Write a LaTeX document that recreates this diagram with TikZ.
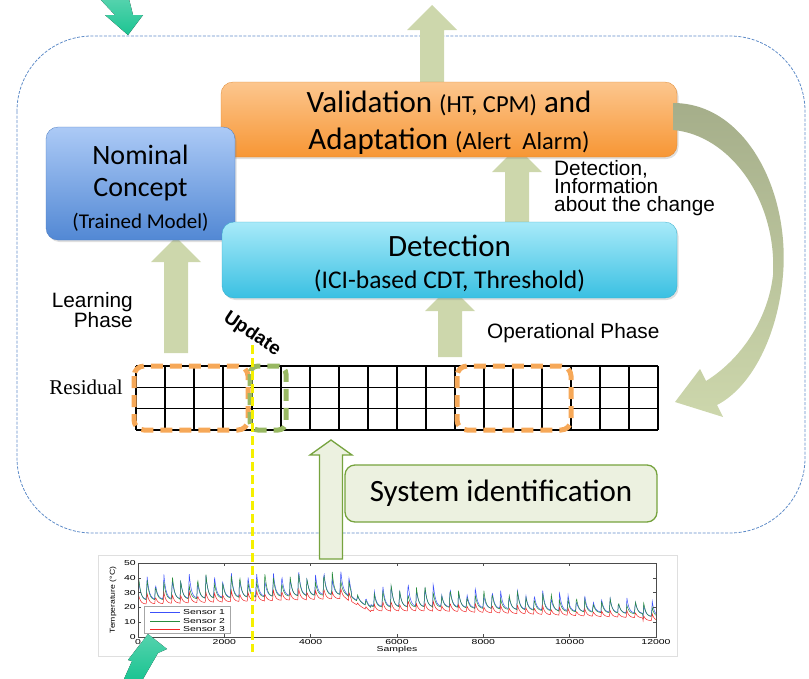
\documentclass[tikz,border=0pt]{standalone}
\usepackage{fontspec}
\setmainfont{Carlito}
\newfontfamily\arialfont{Liberation Sans}
\newfontfamily\timesfont{Liberation Serif}
\usetikzlibrary{arrows.meta, calc, positioning, shadows, backgrounds}

\definecolor{sage}{RGB}{205,215,172}
\definecolor{sagedark}{RGB}{165,174,138}
\definecolor{framblue}{RGB}{95,140,200}
\definecolor{arrteal}{RGB}{28,196,146}
\definecolor{orgdash}{RGB}{246,168,88}
\definecolor{grndash}{RGB}{152,184,98}
\definecolor{sysfill}{RGB}{236,241,224}
\definecolor{sysline}{RGB}{118,163,62}
\definecolor{valtop}{RGB}{252,198,142}
\definecolor{valbot}{RGB}{247,150,52}
\definecolor{nomtop}{RGB}{172,202,246}
\definecolor{nombot}{RGB}{82,136,212}
\definecolor{dettop}{RGB}{168,234,249}
\definecolor{detbot}{RGB}{58,192,226}
\definecolor{sensA}{RGB}{60,80,250}
\definecolor{sensB}{RGB}{40,140,60}
\definecolor{sensC}{RGB}{240,40,40}
\definecolor{updyellow}{RGB}{245,240,0}

\tikzset{
  phasebox/.style={rounded corners=12pt, inner sep=0pt, line width=0.3pt,
    drop shadow={shadow xshift=1.5pt, shadow yshift=-2pt, opacity=0.25}},
  boxtext/.style={align=center, inner sep=0pt},
  window/.style={line width=5pt, dash pattern=on 12pt off 7pt, rounded corners=10pt},
  sidelabel/.style={font=\arialfont\fontsize{20.8}{17.8}\selectfont, inner sep=0pt},
  ticklab/.style={font=\arialfont\fontsize{7.2}{8}\selectfont, inner sep=1pt},
}

% stretched plot text
\newcommand{\wide}[1]{\scalebox{1.45}[1]{#1}}

% fat up arrow: foot, tip
\newcommand{\fatup}[3][sage]{%
  \fill[#1] let \p1=(#2), \p2=(#3) in
    (\x2-12pt,\y1) -- (\x2-12pt,\y2-25pt) -- (\x2-25pt,\y2-25pt) -- (\x2,\y2)
    -- (\x2+25pt,\y2-25pt) -- (\x2+12pt,\y2-25pt) -- (\x2+12pt,\y1) -- cycle;}

\begin{document}
\begin{tikzpicture}[x=1pt, y=-1pt,
  declare function={
    bs(\u)=(\u<48)?(22+0.08*\u):((\u<54)?(25.8-1.5*(\u-48)):((\u<70)?17.5:((\u<117)?(17.5-0.1*(\u-70)):11)));
    am(\u)=(\u<49.5)?18:((\u<54)?5:((\u<70)?17:((\u<100)?14:11)));
    ph(\u)=mod(\u,1.95)/1.95;
    sp(\u)=(ph(\u)<0.07)?(ph(\u)/0.07):exp(-4*(ph(\u)-0.07));
    rka(\u)=0.8+0.2*sin(floor(\u/1.95)*137.5);
    rkb(\u)=0.78+0.22*sin(floor(\u/1.95)*97+60);
  }]
    \useasboundingbox (0,0) rectangle (809,678);

    % boxes
    \node[phasebox, top color=valtop, bottom color=valbot, draw=valbot!90!black,
      minimum width=456pt, minimum height=75pt] (val) at (449,119.5) {};
    \node[boxtext, font=\fontsize{31}{37}\selectfont] (valtxt) at ($(val)+(0,3)$)
      {Validation {\fontsize{24.5}{37}\selectfont(HT, CPM)} and\\Adaptation {\fontsize{24.5}{37}\selectfont(Alert\ \ Alarm)}};
    \node[phasebox, top color=nomtop, bottom color=nombot, draw=nombot!90!black,
      minimum width=189pt, minimum height=113pt] (nom) at (140.5,183.5) {};
    \node[boxtext, font=\fontsize{28}{32}\selectfont] (nomtxt) at ($(nom)+(0,5)$)
      {Nominal\\Concept\\{\fontsize{21}{29}\selectfont(Trained Model)}};
    \node[phasebox, top color=dettop, bottom color=detbot, draw=detbot!90!black,
      minimum width=455pt, minimum height=76pt] (det) at (449.5,260) {};
    \node[boxtext, font=\fontsize{31}{32}\selectfont] (dettxt) at ($(det)+(0,4)$)
      {Detection\\{\fontsize{25.5}{32}\selectfont(ICI-based CDT, Threshold)}};

    \coordinate (upx) at (432,5);
    \coordinate (chx) at (517,0);
    \coordinate (opx) at (450,357);
    \coordinate (lrx) at (176,353);
    \coordinate (crvtip) at (675,402);

    \begin{pgfonlayer}{background}
        \draw[framblue, line width=0.8pt, dash pattern=on 3pt off 1.5pt, rounded corners=75pt] (17,36) rectangle (805,533);
        \fill[top color=arrteal!75!white, bottom color=arrteal] (100,-1) -- (115,15) -- (105,15) -- (128,35) -- (143,15) -- (133,15) -- (129,-1) -- cycle;
        \fatup{val.north -| upx}{upx};
        \fatup{det.north -| chx}{$(val.south -| chx)+(0,-10)$};
        \fatup{opx}{$(det.south -| opx)+(0,-12)$};
        \fatup{lrx}{$(nom.south -| lrx)+(0,-3)$};
    \end{pgfonlayer}

    % back to the residual
    \path[top color=sagedark, middle color=sagedark!60!sage, bottom color=sage]
        ($(val.east)+(-4,-16.5)$) .. controls (745,103) and (790,190) .. (783,275)
        .. controls (778,335) and (752,387) .. (717,405) -- (723,417) -- (crvtip) -- (700,369) -- (706,381)
        .. controls (740,360) and (768,320) .. (773,275) .. controls (777,200) and (730,135) .. ($(val.east)+(-4,10.5)$) -- cycle;

    \node[sidelabel, anchor=west, align=left] (chg) at (554,188) {Detection,\\Information\\about the change};
    \node[sidelabel, anchor=east, align=right] (lrn) at (133,310) {Learning\\Phase};
    \node[sidelabel, anchor=west] (ops) at (487,333) {Operational Phase};
    \node[font=\timesfont\fontsize{21}{22}\selectfont, anchor=east, inner sep=0pt] (res) at (123,387) {Residual};

    % residual grid
    \foreach \i in {0,...,18} \draw[line width=1.2pt] (136+29*\i,366) -- (136+29*\i,430);
    \foreach \r in {366,387.33,408.67,430} \draw[line width=1.2pt] (136,\r) -- (658,\r);
    \draw[window, orgdash] (134,366) rectangle (248,430);
    \draw[window, grndash, rounded corners=8pt] (250,366) rectangle (286,430);
    \draw[window, orgdash] (457,366) rectangle (571,430);

    % temperature plot
    \draw[gray!25, line width=0.6pt] (98,555) rectangle (677,656);
    \begin{scope}
        \clip (138,563) rectangle (656,637);
        \draw[sensA, line width=0.5pt] plot[domain=0:120, samples=961] ({138+4.317*\x},{637-1.48*(bs(\x)+3+am(\x)*rka(\x)*sp(\x))});
        \draw[sensB, line width=0.5pt] plot[domain=0:120, samples=961] ({138+4.317*\x},{637-1.48*(bs(\x)+2.6+0.95*am(\x)*rkb(\x)*sp(\x))});
        \draw[sensC, line width=0.5pt] plot[domain=0:120, samples=961] ({138+4.317*\x},{637-1.48*(bs(\x)+0.45*am(\x)*rka(\x)*sp(\x))});
    \end{scope}
    \draw[black!70, line width=0.5pt] (138,563) rectangle (656,637);
    \foreach \k/\lab in {0/0,1/2000,2/4000,3/6000,4/8000,5/10000,6/12000} {
        \draw[black!70] (138+86.33*\k,637) -- ++(0,-3);
        \draw[black!70] (138+86.33*\k,563) -- ++(0,3);
        \node[ticklab, below] at (138+86.33*\k,638) {\wide{\lab}};
    }
    \foreach \t in {0,10,...,50} {
        \draw[black!70] (138,637-1.48*\t) -- ++(3,0);
        \draw[black!70] (656,637-1.48*\t) -- ++(-3,0);
        \node[ticklab, left] at (137,637-1.48*\t) {\wide{\t}};
    }
    \node[ticklab] (smp) at (397,650) {\wide{Samples}};
    \node[ticklab, rotate=90] (tmp) at (113,600) {\scalebox{1.2}[1]{Temperature (°C)}};
    \draw[fill=white, draw=gray!70] (144,606) rectangle (230,633);
    \foreach \c/\n/\yy in {sensA/1/612, sensB/2/621, sensC/3/629} {
        \draw[\c, line width=0.5pt] (150,\yy) -- (180,\yy);
        \node[ticklab, anchor=west] at (182,\yy) {\wide{Sensor \n}};
    }

    % system identification
    \node[rounded corners=10pt, fill=sysfill, draw=sysline, line width=1.3pt, minimum width=312pt,
      minimum height=57pt, inner sep=0pt, font=\fontsize{31}{34}\selectfont] (sys) at (501,493.5) {System identification};
    \coordinate (sysfoot) at (331,559);
    \coordinate (systip) at (331,440);
    \filldraw[fill=sysfill, draw=sysline, line width=1.3pt] let \p1=(sysfoot), \p2=(systip) in
        (\x2-11.5pt,\y1) -- (\x2-11.5pt,\y2-15pt) -- (\x2-21pt,\y2-15pt) -- (\x2,\y2)
        -- (\x2+21pt,\y2-15pt) -- (\x2+11.5pt,\y2-15pt) -- (\x2+11.5pt,\y1) -- cycle;

    % update
    \draw[updyellow, line width=3pt, dash pattern=on 9pt off 4pt] (252,345) -- (252,652);
    \node[font=\arialfont\bfseries\fontsize{19}{20}\selectfont, rotate=-34, inner sep=0pt] (upd) at (252,334) {Update};

    \fill[top color=arrteal!75!white, bottom color=arrteal] (124,679) -- (132,661) -- (128,660) -- (148,634) -- (167,649) -- (158,653) -- (143,679) -- cycle;
\end{tikzpicture}
\end{document}
